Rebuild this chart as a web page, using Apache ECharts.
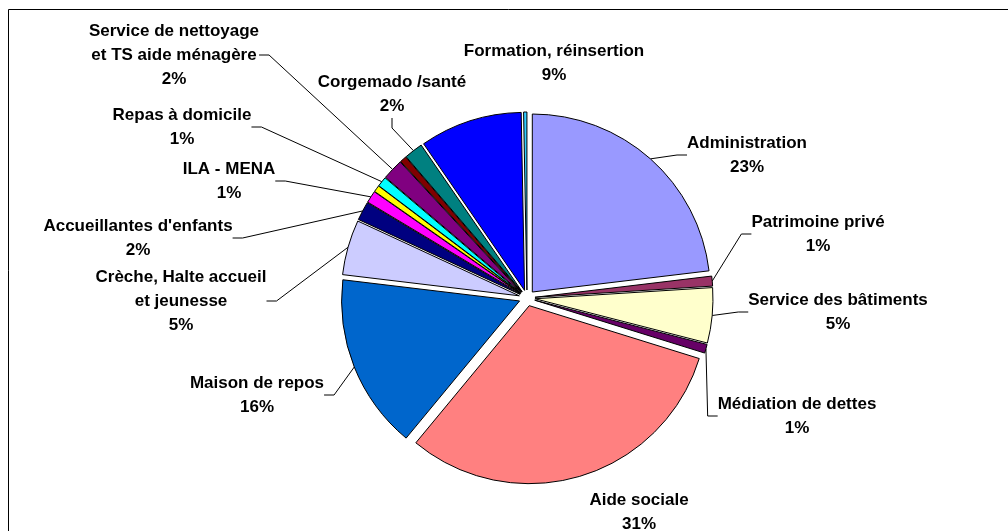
<!DOCTYPE html>
<html>
<head>
<meta charset="utf-8">
<title>Répartition par service</title>
<script src="https://cdn.jsdelivr.net/npm/echarts@6/dist/echarts.min.js"></script>
<style>
  html, body { margin: 0; padding: 0; background: #fff; }
  #chart { width: 1008px; height: 531px; }
</style>
</head>
<body>
<div id="chart"></div>
<script>
// services (clockwise from 12 o'clock); '' = slice without a label
const services = [
  'Administration',
  'Patrimoine privé',
  'Service des bâtiments',
  'Médiation de dettes',
  'Aide sociale',
  'Maison de repos',
  'Crèche, Halte accueil\net jeunesse',
  "Accueillantes d'enfants",
  'ILA - MENA',
  '',
  'Repas à domicile',
  'Service de nettoyage\net TS aide ménagère',
  '',
  'Corgemado /santé',
  'Formation, réinsertion',
  ''
]
// share of the budget (%)
const shares = [23.1, 0.9, 5.0, 0.8, 31.2, 15.9, 5.0, 1.7, 1.1, 0.6, 0.9, 1.9, 0.6, 1.7, 9.3, 0.3]
const colors = [
  '#9999FF', '#993366', '#FFFFCC', '#660066', '#FF8080', '#0066CC', '#CCCCFF', '#000080',
  '#FF00FF', '#FFFF00', '#00FFFF', '#800080', '#800000', '#008080', '#0000FF', '#33CCFF'
]

// where Excel placed each label (block centre, px)
const labelPos = [
  [747, 155], [818, 234], [838, 312], [797, 416], [639, 512], [257, 395],
  [181, 301], [138, 238], [229, 181], null, [182, 127], [174, 55],
  null, [392, 94], [554, 63], null
]
// labels sitting right against their slice get no leader line
const noLeader = [4, 14]

const total = shares.reduce((a, b) => a + b, 0)
const pieCenter = [527, 298]
const pieRadius = 178
const explode = 8

const chart = echarts.init(document.getElementById('chart'))

// visible slices, every one pulled out a little
const sliceData = services.map((name, i) => ({
  name: name,
  value: shares[i],
  selected: true,
  itemStyle: { color: colors[i] }
}))

// invisible copy carrying the labels and leader lines
const labelData = services.map((name, i) => {
  const hasLabel = name !== ''
  return {
    name: name,
    value: shares[i],
    label: { show: hasLabel },
    labelLine: { show: hasLabel && noLeader.indexOf(i) < 0 }
  }
})

chart.setOption({
  animation: false,
  graphic: [
    {
      type: 'rect',
      shape: { x: 8.5, y: 9.5, width: 1100, height: 700 },
      style: { fill: 'none', stroke: '#000', lineWidth: 1 },
      silent: true
    }
  ],
  series: [
    {
      type: 'pie',
      center: pieCenter,
      radius: [0, pieRadius],
      startAngle: 90,
      clockwise: true,
      selectedMode: 'multiple',
      selectedOffset: explode,
      itemStyle: { borderColor: '#000', borderWidth: 1 },
      select: { itemStyle: { borderColor: '#000', borderWidth: 1 } },
      emphasis: { disabled: true },
      label: { show: false },
      labelLine: { show: false },
      data: sliceData
    },
    {
      type: 'pie',
      silent: true,
      center: pieCenter,
      radius: [0, pieRadius + explode],
      startAngle: 90,
      clockwise: true,
      avoidLabelOverlap: false,
      itemStyle: { color: 'rgba(0,0,0,0)', borderWidth: 0 },
      emphasis: { disabled: true },
      label: {
        position: 'outside',
        color: '#000',
        fontFamily: 'Liberation Sans, Arial, sans-serif',
        fontWeight: 'bold',
        fontSize: 17,
        lineHeight: 24,
        align: 'center',
        formatter: p => p.name + '\n' + Math.round(p.value / total * 100) + '%'
      },
      labelLine: {
        length: 10,
        length2: 10,
        lineStyle: { color: '#000', width: 1 }
      },
      labelLayout: params => {
        const p = labelPos[params.dataIndex]
        if (!p) return {}
        return { x: p[0], y: p[1], align: 'center', verticalAlign: 'middle' }
      },
      data: labelData
    }
  ]
})
</script>
</body>
</html>
